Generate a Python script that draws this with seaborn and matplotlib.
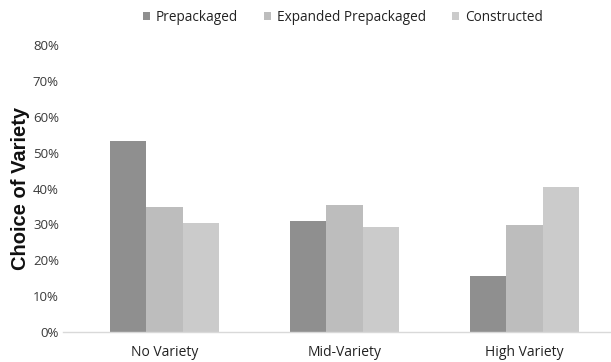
import matplotlib
matplotlib.use("Agg")
import matplotlib.pyplot as plt
import seaborn as sns
import pandas as pd
from matplotlib.ticker import PercentFormatter, MultipleLocator

# Share of participants choosing each variety option
categories = ["No Variety", "Mid-Variety", "High Variety"]
series = ["Prepackaged", "Expanded Prepackaged", "Constructed"]
prepackaged = [0.533, 0.310, 0.157]
expanded_prepackaged = [0.349, 0.354, 0.299]
constructed = [0.304, 0.294, 0.404]
colors = ["#8f8f8f", "#bdbdbd", "#cbcbcb"]

rows = []
for name, vals in zip(series, [prepackaged, expanded_prepackaged, constructed]):
    for cat, v in zip(categories, vals):
        rows.append({"Condition": cat, "Option": name, "Share": v})
df = pd.DataFrame(rows)

sns.set_theme(style="white")
plt.rcParams["font.family"] = ["Open Sans", "DejaVu Sans"]

fig = plt.figure(figsize=(6.11, 3.62), dpi=100)
ax = fig.add_axes([63 / 611, 30 / 362, 1 - 63 / 611, 287 / 362])

sns.barplot(data=df, x="Condition", y="Share", hue="Option",
            order=categories, hue_order=series, palette=colors,
            width=0.605, gap=0, saturation=1, edgecolor="none",
            linewidth=0, ax=ax, legend=True)

ax.set_ylim(0, 0.8)
ax.set_xlim(-0.564, 2.48)
ax.yaxis.set_major_locator(MultipleLocator(0.1))
ax.yaxis.set_major_formatter(PercentFormatter(1.0, decimals=0))
ax.tick_params(axis="both", length=0, labelsize=9.5, colors="#3a3a3a")
ax.tick_params(axis="x", pad=9, labelsize=10, colors="#222222")
ax.tick_params(axis="y", pad=3)

for side in ["top", "right", "left"]:
    ax.spines[side].set_visible(False)
ax.spines["bottom"].set_color("#d9d9d9")
ax.spines["bottom"].set_linewidth(1.0)

ax.set_xlabel("")
ax.set_ylabel("Choice of Variety", fontsize=14.5, fontweight="bold",
              family=["Liberation Sans", "DejaVu Sans"], color="#111111",
              labelpad=2)

handles, labels = ax.get_legend_handles_labels()
ax.legend_.remove()
fig.legend(handles, labels, loc="center", bbox_to_anchor=(0.561, 0.953),
           ncol=3, frameon=False, fontsize=9.8, handlelength=0.55,
           handleheight=0.55, handletextpad=0.4, columnspacing=1.9,
           labelcolor="#222222")

fig.savefig("out.png", dpi=100)
